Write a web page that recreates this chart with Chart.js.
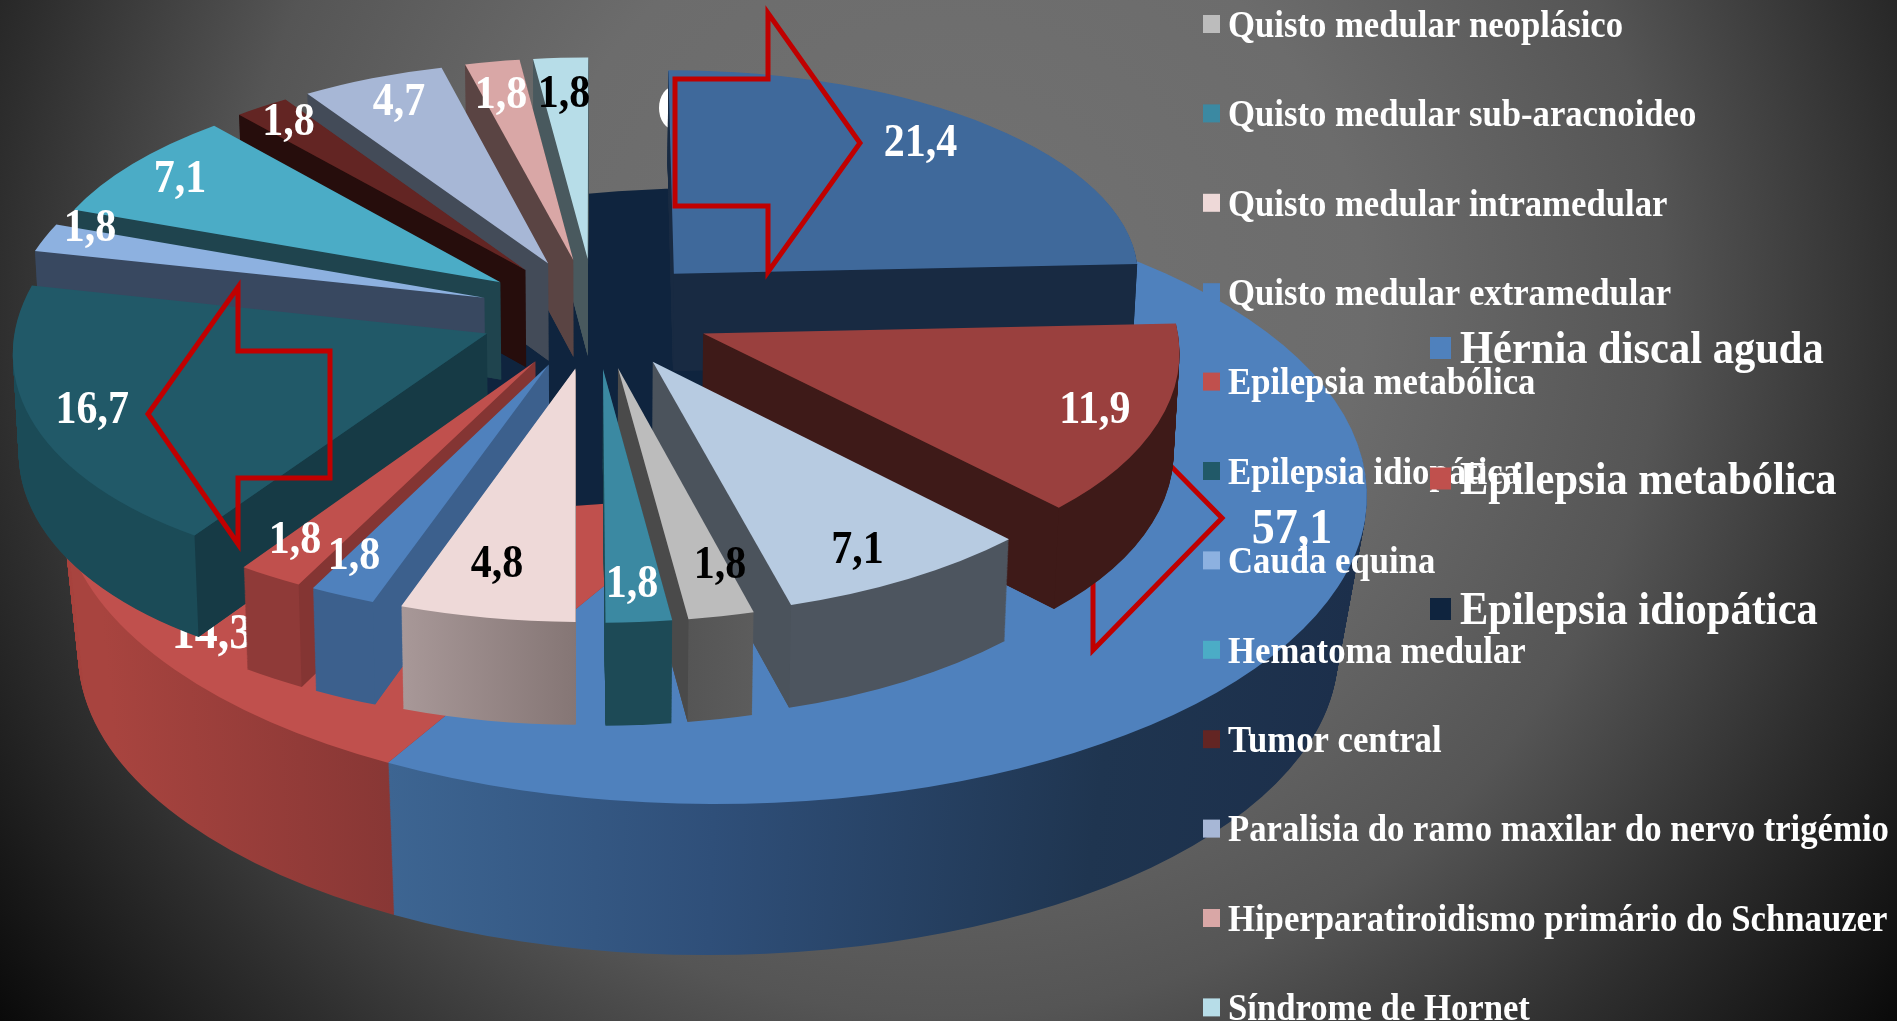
<!DOCTYPE html>
<html lang="pt">
<head>
<meta charset="utf-8">
<title>Pie 3D</title>
<script src="https://cdn.jsdelivr.net/npm/chart.js@4/dist/chart.umd.js"></script>
<style>html,body{margin:0;padding:0;background:#222;overflow:hidden}canvas{display:block}</style>
</head>
<body>
<canvas id="c" width="1897" height="1021"></canvas>
<script>
// ---------- data ----------
const groupLabels = ['Hérnia discal aguda', 'Epilepsia metabólica', 'Epilepsia idiopática'];
const groupValues = [57.1, 14.3, 28.6];
const groupText   = ['57,1', '14,3', ''];

const detailValues = [21.4, 11.9, 7.1, 1.8, 1.8, 4.8, 1.8, 1.8, 16.7, 1.8, 7.1, 1.8, 4.7, 1.8, 1.8];
const detailText   = ['21,4','11,9','7,1','1,8','1,8','4,8','1,8','1,8','16,7','1,8','7,1','1,8','4,7','1,8','1,8'];
const detailLabels = ['', '', '',
  'Quisto medular neoplásico', 'Quisto medular sub-aracnoideo', 'Quisto medular intramedular',
  'Quisto medular extramedular', 'Epilepsia metabólica', 'Epilepsia idiopática', 'Cauda equina',
  'Hematoma medular', 'Tumor central', 'Paralisia do ramo maxilar do nervo trigémio',
  'Hiperparatiroidismo primário do Schnauzer', 'Síndrome de Hornet'];

// ---------- styles ----------
const groupColors = ['#4f81bd', '#c0504d', '#0f243e'];
const detailColors = ['#3f699b','#9a403e','#b7cbe1','#bcbcbc','#3b89a2','#eed9d8','#4f81bd','#c0504d','#215968','#8db1e0','#4bacc6','#632523','#a7b7d6','#d9a7a6','#b7dde8'];
const detailWall = [['#182a42','#182a42'],['#3e1a18','#3e1a18'],['#4d555f','#4d555f'],['#5c5c5c','#555555'],['#1d4a56','#1d4a56'],
  ['#857675','#a89898'],['#3c608d','#3c608d'],['#8f3a38','#8f3a38'],['#1b4b57','#1b4b57'],['#384860','#384860'],['#1f444e','#1f444e'],
  ['#260d0c','#260d0c'],['#434b58','#434b58'],['#5a4443','#5a4443'],['#49595e','#49595e']];
const detailFlat = ['#182a42','#3e1a18','#4b535c','#4a4a4a','#1d4a56','#857675','#3c608d','#843533','#163a45','#384860','#1f444e','#260d0c','#434b58','#5a4443','#49595e'];
const detailLabelColor = ['#fff','#fff','#000','#000','#fff','#000','#fff','#fff','#fff','#fff','#fff','#fff','#fff','#fff','#000'];
const labelNudge = [[-17,2],[-5,2],[-17,2],[13,-16],[-2,-2],[-2,-18],[-17,-6],[-12,-6],[2,2],[-11,-16],[0,2],[-6,-4],[5,2],[-1,10],[0,13]];
const FONT = '"Liberation Serif","Times New Roman",serif';

// camera of the exploded pie
const CX=595, CY=313, RX=472, RY=225, P=0.077, EXPLODE=0.245, D0=98, D1=4, SHRINK=0.01, LABEL_R=0.87;
// ellipse of the back pie: top face and bottom face
const OUT_TOP={cx:714,cy:496,rx:653,ry:308}, OUT_BOT={cx:708,cy:653,rx:630,ry:302};

function proj(X,Y,z){
  const k=1/(1-P*Y);
  const x=CX+RX*X*k, y=CY+RY*Y*k;
  return [CX+(x-CX)*(1-SHRINK*z), y+z*(D0+D1*Y)];
}
function drawArc(ctx,el,color){
  const saved=el.options;
  el.options=Object.assign(Object.create(saved),{backgroundColor:color,borderWidth:0,offset:0,spacing:0});
  el.draw(ctx);
  el.options=saved;
}
function setSliceTransform(ctx,el,z){
  const a1=el.startAngle,a2=el.endAngle,m=(a1+a2)/2,R=el.outerRadius;
  const ex=EXPLODE*Math.cos(m),ey=EXPLODE*Math.sin(m);
  const A=proj(ex,ey,z),B=proj(ex+Math.cos(a1),ey+Math.sin(a1),z),C=proj(ex+Math.cos(a2),ey+Math.sin(a2),z);
  const ux=R*Math.cos(a1),uy=R*Math.sin(a1),vx=R*Math.cos(a2),vy=R*Math.sin(a2);
  const Ux=B[0]-A[0],Uy=B[1]-A[1],Vx=C[0]-A[0],Vy=C[1]-A[1];
  const det=ux*vy-uy*vx;
  const a=(Ux*vy-Vx*uy)/det,c=(Vx*ux-Ux*vx)/det,b=(Uy*vy-Vy*uy)/det,d=(Vy*ux-Uy*vx)/det;
  ctx.setTransform(a,b,c,d,A[0]-a*el.x-c*el.y,A[1]-b*el.x-d*el.y);
}
function setOuterTransform(ctx,el,t){
  const l=(p,q)=>p+(q-p)*t;
  const cx=l(OUT_TOP.cx,OUT_BOT.cx),cy=l(OUT_TOP.cy,OUT_BOT.cy),rx=l(OUT_TOP.rx,OUT_BOT.rx),ry=l(OUT_TOP.ry,OUT_BOT.ry);
  const sx=rx/el.outerRadius,sy=ry/el.outerRadius;
  ctx.setTransform(sx,0,0,sy,cx-el.x*sx,cy-el.y*sy);
}
function flatSide(ctx,el,color){
  const a1=el.startAngle,a2=el.endAngle,m=(a1+a2)/2;
  // clockwise angle from 12 o'clock decides which radial side faces the viewer
  const phi=((m+Math.PI/2)%(Math.PI*2)+Math.PI*2)%(Math.PI*2);
  const side=phi<Math.PI?a2:a1;
  const ex=EXPLODE*Math.cos(m),ey=EXPLODE*Math.sin(m);
  const q=[proj(ex,ey,0),proj(ex+Math.cos(side),ey+Math.sin(side),0),proj(ex+Math.cos(side),ey+Math.sin(side),1),proj(ex,ey,1)];
  ctx.setTransform(1,0,0,1,0,0);
  ctx.beginPath();q.forEach((p,i)=>i?ctx.lineTo(p[0],p[1]):ctx.moveTo(p[0],p[1]));ctx.closePath();
  ctx.fillStyle=color;ctx.fill();
}
function arrow(ctx,pts){
  ctx.save();ctx.setTransform(1,0,0,1,0,0);
  ctx.beginPath();pts.forEach((p,i)=>i?ctx.lineTo(p[0],p[1]):ctx.moveTo(p[0],p[1]));ctx.closePath();
  ctx.strokeStyle='#c00000';ctx.lineWidth=5;ctx.lineJoin='miter';ctx.stroke();ctx.restore();
}
function text(ctx,s,x,y,size,color,align){
  ctx.save();
  ctx.setTransform(1,0,0,1.1,x,y);
  ctx.font='bold '+size+'px '+FONT;ctx.fillStyle=color;ctx.textAlign=align||'center';ctx.textBaseline='middle';ctx.fillText(s,0,0);
  ctx.restore();
}

const pie3d={
  id:'pie3d',
  beforeDraw(chart){
    const ctx=chart.ctx;ctx.save();
    const g=ctx.createRadialGradient(948,300,0,948,300,1190);
    g.addColorStop(0,'#727272');g.addColorStop(.35,'#6c6c6c');g.addColorStop(.6,'#555555');g.addColorStop(.8,'#2e2e2e');g.addColorStop(1,'#0a0a0a');
    ctx.fillStyle=g;ctx.fillRect(0,0,1897,1021);ctx.restore();
  },
  beforeDatasetsDraw(chart){
    const ctx=chart.ctx;
    const outer=chart.getDatasetMeta(0).data, inner=chart.getDatasetMeta(1).data;
    outer.concat(inner).forEach(e=>{e.innerRadius=0;});
    ctx.save();
    // ---- back pie: walls
    const R=outer[0].outerRadius,ox=outer[0].x;
    const gBlue=ctx.createLinearGradient(ox-R,0,ox+R,0);
    gBlue.addColorStop(.25,'#3d6592');gBlue.addColorStop(.5,'#2f4f79');gBlue.addColorStop(.8,'#1f3550');gBlue.addColorStop(1,'#1c2f4b');
    const gRed=ctx.createLinearGradient(ox-R,0,ox+R,0);
    gRed.addColorStop(.03,'#a8443f');gRed.addColorStop(.25,'#883735');
    const wall=[gBlue,gRed,'#a8443f'];
    const steps=170;
    for(let i=steps;i>0;i--){
      outer.forEach((el,j)=>{setOuterTransform(ctx,el,i/steps);drawArc(ctx,el,wall[j]);});
    }
    outer.forEach((el,j)=>{setOuterTransform(ctx,el,0);drawArc(ctx,el,groupColors[j]);});
    ctx.setTransform(1,0,0,1,0,0);
    // ---- decoration hidden behind the front slices
    ctx.fillStyle='#fff';ctx.beginPath();ctx.ellipse(675,108,16,22,0,0,Math.PI*2);ctx.fill();
    text(ctx,groupText[0],1292,530,46,'#fff');
    text(ctx,groupText[1],212,635,46,'#fff');
    arrow(ctx,[[1222,518],[1093,650],[1093,581],[960,581],[960,455],[1093,455],[1093,387]]);
    // ---- exploded pie, back to front
    const order=inner.map((el,i)=>i).sort((p,q)=>{
      const m=e=>Math.sin((e.startAngle+e.endAngle)/2);return m(inner[p])-m(inner[q]);});
    const N=110;
    order.forEach(i=>{
      const el=inner[i],R2=el.outerRadius;
      const a1=el.startAngle,a2=el.endAngle;
      const g=ctx.createLinearGradient(el.x+R2*Math.cos(a1),el.y+R2*Math.sin(a1),el.x+R2*Math.cos(a2),el.y+R2*Math.sin(a2));
      g.addColorStop(0,detailWall[i][0]);g.addColorStop(1,detailWall[i][1]);
      for(let k=N;k>0;k--){setSliceTransform(ctx,el,k/N);drawArc(ctx,el,g);}
      flatSide(ctx,el,detailFlat[i]);
      setSliceTransform(ctx,el,0);drawArc(ctx,el,detailColors[i]);
    });
    ctx.setTransform(1,0,0,1,0,0);
    // ---- arrows on top of the slices
    arrow(ctx,[[675,79],[768,79],[768,13],[860,143],[768,272],[768,206],[675,206]]);
    arrow(ctx,[[148,414],[238,287],[238,351],[330,351],[330,478],[238,478],[238,544]]);
    // ---- data labels
    inner.forEach((el,i)=>{
      const m=(el.startAngle+el.endAngle)/2,r=EXPLODE+LABEL_R;
      const p=proj(r*Math.cos(m),r*Math.sin(m),0);
      text(ctx,detailText[i],p[0]+labelNudge[i][0],p[1]+labelNudge[i][1],42,detailLabelColor[i]);
    });
    // ---- legends
    let row=0;
    detailLabels.forEach((lab,i)=>{
      if(!lab)return;
      const y=24+row*89.4;row++;
      ctx.fillStyle=detailColors[i];ctx.fillRect(1203,y-9,17,18);
      text(ctx,lab,1228,y+3,34.7,'#fff','left');
    });
    groupLabels.forEach((lab,i)=>{
      const y=348+i*130.5;
      ctx.fillStyle=groupColors[i];ctx.fillRect(1430,y-11,21,22);
      text(ctx,lab,1460,y+3,42.5,'#fff','left');
    });
    ctx.restore();
    return false;
  }
};

new Chart(document.getElementById('c'),{
  type:'pie',
  data:{labels:detailLabels,datasets:[
    {label:'Grupos',data:groupValues,backgroundColor:groupColors,rotation:4.4,borderWidth:0},
    {label:'Diagnósticos',data:detailValues,backgroundColor:detailColors,borderWidth:0}
  ]},
  options:{responsive:false,animation:false,events:[],
    plugins:{legend:{display:false},tooltip:{enabled:false}}},
  plugins:[pie3d]
});
</script>
</body>
</html>
